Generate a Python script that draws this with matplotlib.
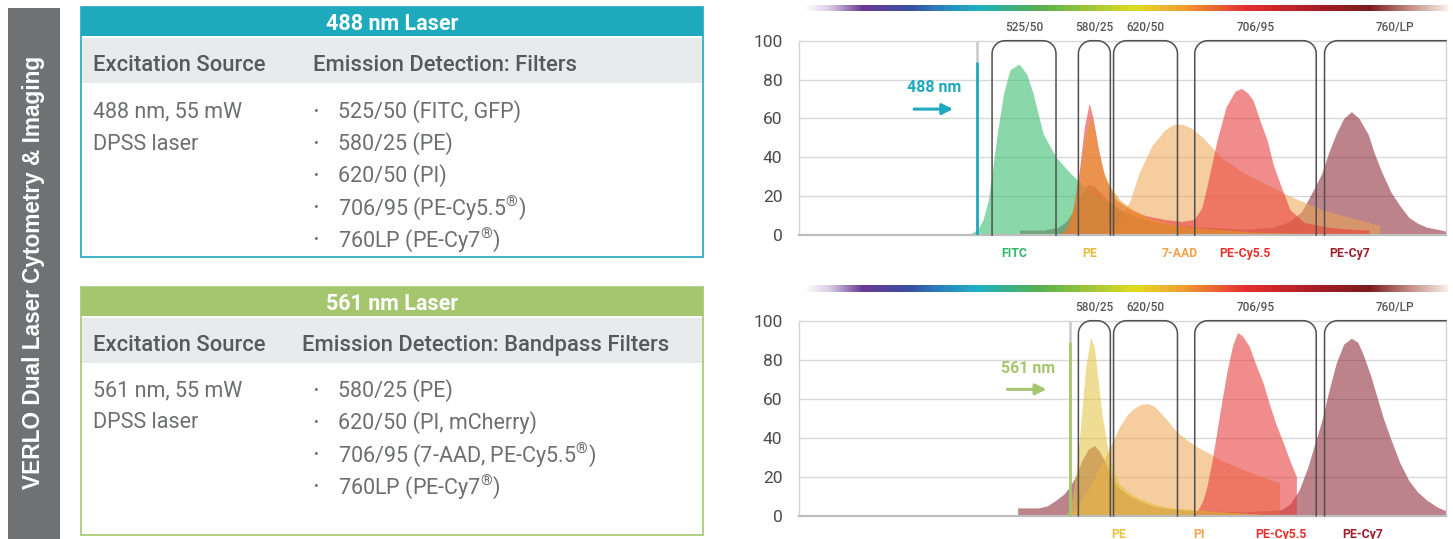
import numpy as np
import matplotlib
matplotlib.use('Agg')
import matplotlib.pyplot as plt
from matplotlib.colors import LinearSegmentedColormap
from matplotlib.patches import Rectangle

plt.rcParams['font.family'] = ['Roboto', 'DejaVu Sans']
plt.rcParams['mathtext.fontset'] = 'custom'
plt.rcParams['mathtext.rm'] = 'Roboto'

# ---- table contents ----
side_title = 'VERLO Dual Laser Cytometry & Imaging'
title_488 = '488 nm Laser'
title_561 = '561 nm Laser'
head_488 = ['Excitation Source', 'Emission Detection: Filters']
head_561 = ['Excitation Source', 'Emission Detection: Bandpass Filters']
source_488 = ['488 nm, 55 mW', 'DPSS laser']
source_561 = ['561 nm, 55 mW', 'DPSS laser']
filters_488 = ['525/50 (FITC, GFP)', '580/25 (PE)', '620/50 (PI)',
               r'706/95 (PE-Cy5.5$^{\mathrm{®}}$)', r'760LP (PE-Cy7$^{\mathrm{®}}$)']
filters_561 = ['580/25 (PE)', '620/50 (PI, mCherry)',
               r'706/95 (7-AAD, PE-Cy5.5$^{\mathrm{®}}$)', r'760LP (PE-Cy7$^{\mathrm{®}}$)']

# ---- filter bands (nm) ----
band_names = ['525/50', '580/25', '620/50', '706/95', '760/LP']
band_lo = [500, 567.5, 595, 658.5, 760]
band_hi = [550, 592.5, 645, 753.5, None]   # None -> long pass

lasers = [488, 561]

# ---- spectra, 488 nm excitation ----
fitc_nm = [478, 484, 489, 493, 497, 500, 504, 509, 514, 521, 527, 532, 540, 550, 561, 575, 590, 608, 625, 643, 661, 680, 700]
fitc_y = [0, 1, 3, 8, 18, 32, 52, 73, 85, 88, 83, 73, 52, 40, 32, 23, 17, 10, 6, 4, 2, 1, 0]

pe488_nm = [552, 558, 564, 568, 572, 577, 580, 583, 587, 592, 600, 610, 622, 636, 650, 665, 685, 705, 730, 760]
pe488_y = [0, 3, 15, 30, 48, 61, 55, 43, 33, 25, 18, 13, 9, 6, 4.5, 3.5, 2.5, 1.5, 1, 0]

aad_nm = [585, 595, 602, 608, 615, 625, 635, 642, 649, 656, 665, 679, 697, 715, 733, 758, 780, 803, 803]
aad_y = [0, 4, 10, 18, 32, 46, 54, 57, 57, 55, 50, 40, 32, 26, 20, 13, 9, 5, 0]

pecy55_488_nm = [552, 558, 563, 568, 572, 576, 579, 583, 588, 597, 608, 620, 635, 648, 658, 664, 668, 672, 676, 683,
                 690, 695, 700, 704, 710, 715, 720, 726, 733, 744, 762, 780, 795, 795]
pecy55_488_y = [0, 3, 12, 32, 55, 68, 60, 45, 30, 18, 13, 10, 8, 7, 8, 14, 25, 37, 49, 66,
                74, 75.5, 73, 69.5, 58, 49, 36, 25, 13, 6.5, 4, 3, 2.5, 0]

pecy7_488_nm = [521.5, 521.5, 540, 552, 558, 563, 569, 575, 580, 590, 600, 610, 625, 643, 665, 697, 720, 733, 742,
                747, 752, 758, 763, 769, 775, 781, 787, 794, 799, 805, 812, 819, 826, 833, 840, 848, 855]
pecy7_488_y = [0, 2.5, 2.5, 4, 7, 12, 20, 26, 25, 18, 13, 10, 7, 5, 4, 3, 4, 7, 12,
               18, 24, 32, 42, 52, 60, 63.5, 60, 52, 42, 32, 22, 15, 9, 6, 4, 3, 2]

# ---- spectra, 561 nm excitation ----
pe561_nm = [557, 561, 564, 567, 570, 573, 577, 580, 583, 586, 590, 594, 600, 607, 615, 625, 636, 650, 665, 685, 705, 720]
pe561_y = [0, 3, 14, 30, 52, 75, 92, 86, 69, 52, 36, 24, 16, 12, 9, 6.5, 4.5, 3.5, 2.7, 1.8, 1, 0]

pi_nm = [558, 565, 575, 582, 590, 595, 600, 606, 611, 616, 621, 626, 630, 637, 643, 652, 661, 670, 679, 697, 711, 725, 725]
pi_y = [0, 3, 13, 22, 32, 39, 46, 52, 55, 57, 57.5, 56.5, 54, 49, 44, 39, 35, 32, 28.5, 23.5, 20, 17, 0]

pecy55_561_nm = [655, 661, 665, 668, 672, 676, 680, 684, 688, 692, 696, 701, 706, 712, 717, 722, 728, 733, 738, 738]
pecy55_561_y = [0, 3, 8, 15, 28, 44, 60, 75, 87, 94, 92, 87, 78, 68, 57, 47, 37, 28, 20, 0]

pecy7_561_nm = [520, 520, 536, 543, 550, 556, 561, 566, 570, 575, 580, 584, 588, 593, 600, 608, 617, 626, 640, 661,
                697, 726, 733, 740, 747, 752, 758, 763, 769, 775, 781, 786, 790, 796, 801, 806, 812, 819, 826, 833,
                840, 848, 855]
pecy7_561_y = [0, 4, 4, 5, 8, 11, 15, 21, 28, 34, 36, 33, 28, 20, 14, 10, 7, 5, 3.5, 2.6,
               2, 3, 6, 13, 25, 36, 49, 63, 78, 88, 91, 89, 83, 72, 61, 50, 39, 27, 18, 12,
               8, 4.5, 2.5]

# dye labels under each chart (name, centre nm, colour)
dyes_488 = [('FITC', 517, '#2fb56a'), ('PE', 576, '#e8b83a'), ('7-AAD', 647, '#f2a24a'),
            ('PE-Cy5.5', 698, '#e8312f'), ('PE-Cy7', 780, '#9e1f2b')]
dyes_561 = [('PE', 599, '#e8c23a'), ('PI', 662, '#f2a24a'),
            ('PE-Cy5.5', 726, '#e8312f'), ('PE-Cy7', 790, '#9e1f2b')]

TEAL = '#1ea9bd'
GREEN = '#a5c66e'
W, H = 1453, 539

fig = plt.figure(figsize=(W / 100, H / 100), dpi=100)

# ---------- left side: tables drawn in pixel space ----------
bg = fig.add_axes([0, 0, 1, 1])
bg.set_xlim(0, W)
bg.set_ylim(H, 0)
bg.axis('off')

bg.add_patch(Rectangle((8, 8), 52, 531, color='#707172', lw=0))
bg.text(34, 272, side_title, rotation=90, ha='center', va='center', color='white',
        fontsize=16.3, fontweight='bold', family=['Liberation Sans', 'DejaVu Sans'])


def draw_table(top, bottom, colour, title, heads, head_x, source, items, row_y):
    bg.add_patch(Rectangle((81, top), 622, bottom - top, facecolor='white', edgecolor=colour, lw=1.2))
    bg.add_patch(Rectangle((81, top), 622, 29, color=colour, lw=0))
    bg.add_patch(Rectangle((82, top + 31), 620, 45, color='#e9eaeb', lw=0))
    bg.text(392, top + 16.5, title, ha='center', va='center', color='white', fontsize=15.5, fontweight='bold')
    for h, hx in zip(heads, head_x):
        bg.text(hx, top + 58.5, h, ha='left', va='center', color='#58595b', fontsize=15.8, fontweight='medium')
    for i, s in enumerate(source):
        bg.text(93, row_y + 32 * i, s, ha='left', va='center', color='#6d6e71', fontsize=15.5)
    for i, it in enumerate(items):
        bg.text(316, row_y + 32 * i, '\u2022', ha='center', va='center', color='#6d6e71', fontsize=10)
        bg.text(338, row_y + 32 * i, it, ha='left', va='center', color='#6d6e71', fontsize=15.5)


draw_table(7, 257, TEAL, title_488, head_488, [93, 313], source_488, filters_488, 112)
draw_table(287, 535, GREEN, title_561, head_561, [93, 302], source_561, filters_561, 391)

# ---------- spectrum charts ----------
rainbow = LinearSegmentedColormap.from_list('rainbow_bar', [
    (0.0, '#ffffff'), (0.04, '#d9cce6'), (0.09, '#6b3b94'), (0.16, '#3d4c9f'), (0.21, '#2a7fc0'),
    (0.27, '#1fb0c4'), (0.365, '#55b050'), (0.515, '#e2dc22'), (0.587, '#f0a030'), (0.686, '#e53030'),
    (0.80, '#a81c26'), (0.88, '#7a1c1c'), (0.94, '#c08a80'), (1.0, '#f7ece8')])

XMIN, XMAX = 349, 855
RX = 13 / 1.28      # corner radius in nm
RY = 13 / 1.945     # corner radius in % units


def band_outline(ax, lo, hi):
    t1 = np.linspace(np.pi, np.pi / 2, 12)
    xs = [lo, lo] + list(lo + RX + RX * np.cos(t1))
    ys = [0, 100 - RY] + list(100 - RY + RY * np.sin(t1))
    if hi is None:
        xs += [XMAX]
        ys += [100]
    else:
        t2 = np.linspace(np.pi / 2, 0, 12)
        xs += list(hi - RX + RX * np.cos(t2)) + [hi]
        ys += list(100 - RY + RY * np.sin(t2)) + [0]
    ax.plot(xs, ys, color='#4f4f4f', lw=1.1, clip_on=False, zorder=6)


def spectrum_axes(ax_rect, bar_rect, laser, laser_col, bands, fills, dyes):
    ax = fig.add_axes(ax_rect)
    ax.set_xlim(XMIN, XMAX)
    ax.set_ylim(0, 100)
    for v in [20, 40, 60, 80, 100]:
        ax.axhline(v, color='#d8d8d8', lw=1, zorder=0, clip_on=False)
    for nm, y, c, a in fills:
        ax.fill_between(nm, y, 0, color=c, alpha=a, lw=0, zorder=2)
    for i in bands:
        band_outline(ax, band_lo[i], band_hi[i])
        cx = (band_lo[i] + band_hi[i]) / 2 if band_hi[i] else 815
        ax.text(cx, 107, band_names[i], ha='center', va='center', fontsize=8.5,
                color='#555555', fontweight='medium')
    ax.plot([laser, laser], [89, 100], color='#cfcfcf', lw=2, zorder=5, solid_capstyle='butt')
    ax.plot([laser, laser], [0, 89], color=laser_col, lw=2, zorder=5, solid_capstyle='butt')
    ax.text(laser - 33, 75.7, f'{laser} nm', ha='center', va='center', color=laser_col,
            fontsize=11.5, fontweight='bold')
    ax.annotate('', xy=(laser - 18.5, 64.8), xytext=(laser - 49, 64.8),
                arrowprops=dict(arrowstyle='-|>', color=laser_col, lw=2.2, mutation_scale=16,
                                shrinkA=0, shrinkB=0))
    for name, x, c in dyes:
        ax.text(x, -9.5, name, ha='center', va='center', color=c, fontsize=8.8, fontweight='bold')
    ax.set_xticks([])
    ax.set_yticks([0, 20, 40, 60, 80, 100])
    ax.tick_params(axis='y', length=0, pad=12, labelsize=12.5, labelcolor='#4a4a4a')
    ax.spines['top'].set_visible(False)
    for s in ['left', 'right']:
        ax.spines[s].set_color('#d4d4d4')
        ax.spines[s].set_linewidth(1)
    ax.spines['bottom'].set_color('#bdbdbd')
    ax.spines['bottom'].set_linewidth(1.6)
    ax.patch.set_alpha(0)

    bar = fig.add_axes(bar_rect)
    bar.imshow(np.linspace(0, 1, 512).reshape(1, -1), aspect='auto', cmap=rainbow)
    bar.axis('off')
    return ax


fills_488 = [
    (pecy7_488_nm, pecy7_488_y, '#8c2a35', 0.58),
    (fitc_nm, fitc_y, '#3dbd72', 0.6),
    (aad_nm, aad_y, '#eea550', 0.55),
    (pecy55_488_nm, pecy55_488_y, '#e83a3a', 0.58),
    (pe488_nm, pe488_y, '#e8962a', 0.62),
]
fills_561 = [
    (pecy7_561_nm, pecy7_561_y, '#8c2a35', 0.58),
    (pi_nm, pi_y, '#eea550', 0.55),
    (pecy55_561_nm, pecy55_561_y, '#e83a3a', 0.58),
    (pe561_nm, pe561_y, '#e3c23a', 0.55),
]

spectrum_axes([799 / W, (H - 235) / H, 647 / W, 194.3 / H],
              [803 / W, (H - 11.3) / H, 644 / W, 6.6 / H],
              lasers[0], TEAL, [0, 1, 2, 3, 4], fills_488, dyes_488)
spectrum_axes([799 / W, (H - 515.7) / H, 647 / W, 195 / H],
              [803 / W, (H - 291.7) / H, 644 / W, 6.6 / H],
              lasers[1], GREEN, [1, 2, 3, 4], fills_561, dyes_561)

fig.savefig('out.png', dpi=100)
